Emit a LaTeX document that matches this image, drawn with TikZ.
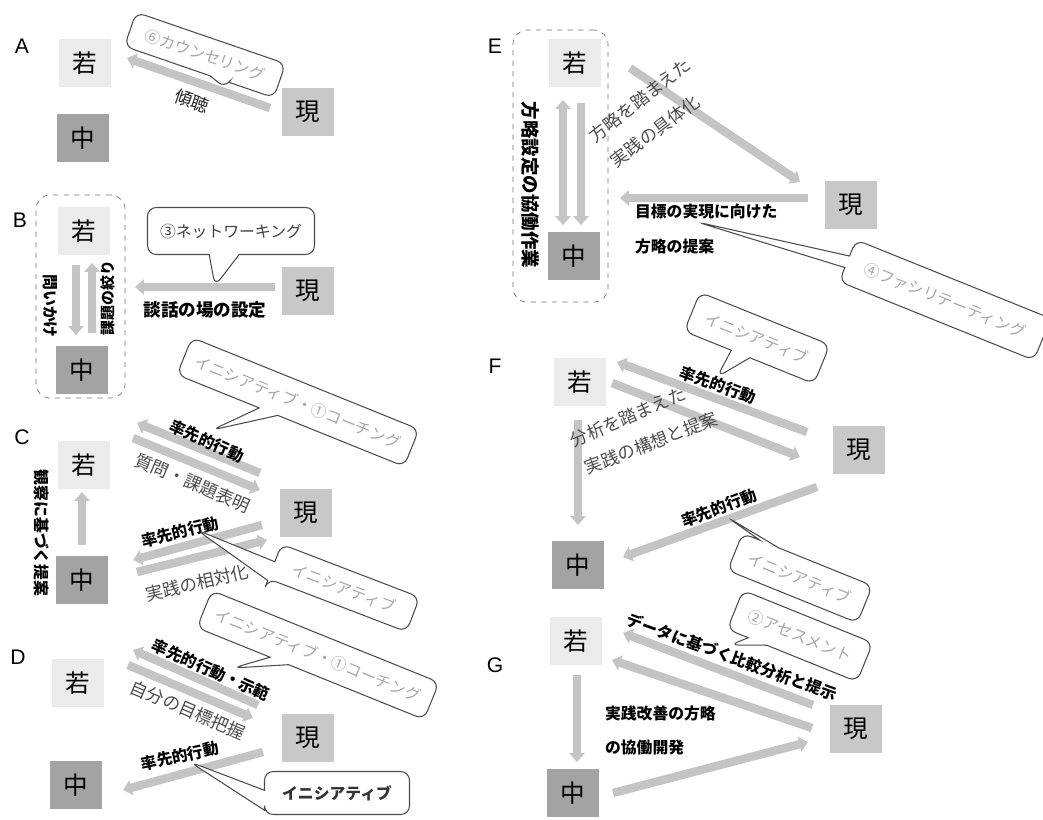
\documentclass[tikz,border=0pt]{standalone}
\usepackage{fontspec}
\setmainfont{Liberation Sans}
\newfontfamily\jp{Noto Sans CJK JP}
\usetikzlibrary{positioning,shapes.callouts,arrows.meta,calc,fit}

\definecolor{wakafill}{HTML}{EBEBEB}
\definecolor{genfill}{HTML}{C8C8C8}
\definecolor{nakafill}{HTML}{A3A3A3}
\definecolor{bandgray}{HTML}{C4C4C4}
\definecolor{notegray}{HTML}{A8A8A8}

\tikzset{
  box/.style={minimum width=1.04cm, minimum height=0.96cm, inner sep=0pt,
    font=\jp\fontsize{14}{16}\selectfont},
  waka/.style={box, fill=wakafill},
  gen/.style={box, fill=genfill},
  naka/.style={box, fill=nakafill},
  band/.style={draw=bandgray, line width=4.8pt,
    -{Triangle[width=8.5pt,length=5pt]}},
  bandboth/.style={band, {Triangle[width=8.5pt,length=5pt]}-{Triangle[width=8.5pt,length=5pt]}},
  lbl/.style={font=\jp\fontsize{9}{11}\selectfont\bfseries, inner sep=1pt},
  soft/.style={font=\jp\fontsize{10}{12}\selectfont, text=black!70, inner sep=1pt},
  bubble/.style={rectangle callout, draw=black!70, line width=0.6pt, fill=white,
    rounded corners=5pt, text=notegray, font=\jp\fontsize{9}{11}\selectfont,
    callout pointer width=0.4cm, inner sep=0pt},
  panel/.style={font=\fontsize{12}{14}\selectfont},
  grp/.style={draw=black!55, dashed, rounded corners=8pt, inner sep=0pt},
}

\begin{document}
\begin{tikzpicture}[x=0.02cm, y=-0.02cm]
\useasboundingbox (0,0) rectangle (1043,819);

% A
\node[panel] (labA) at (22,46) {A};
\node[waka] (wakaA) at (85,63) {若};
\node[naka] (nakaA) at (83,138) {中};
\node[gen] (genA) at (308,112) {現};
\draw[band] ($(genA)+(-38,-4)$) -- ($(wakaA)+(42,-5)$);
\node[soft, text=black!85, rotate=-19] (listenA) at (192,101) {傾聴};
\node[bubble, rotate=-19, minimum width=3.16cm, minimum height=0.72cm,
  callout absolute pointer={(225,88)}] (noteA) at (205,55) {⑥カウンセリング};

% B
\node[panel] (labB) at (20,220) {B};
\node[grp, fit={(36,195) (125,398)}] (grpB) {};
\node[waka] (wakaB) at (84,231) {若};
\node[naka] (nakaB) at (82,370) {中};
\node[gen] (genB) at (308,291) {現};
\draw[band] ($(genB)+(-33,-4)$) -- ($(genB)+(-173,-4)$);
\draw[band] ($(wakaB)+(-8,34)$) -- ($(nakaB)+(-6,-35)$);
\draw[band] ($(nakaB)+(10,-37)$) -- ($(wakaB)+(8,32)$);
\node[lbl, font=\jp\fontsize{10}{12}\selectfont\bfseries] (talkB) at (205,310) {談話の場の設定};
\node[lbl, rotate=-90] (askB) at (50,306) {問いかけ};
\node[lbl, rotate=90, font=\jp\fontsize{8.5}{10}\selectfont\bfseries] (focusB) at (108,298) {課題の絞り};
\node[bubble, text=black!75, minimum width=3.34cm, minimum height=0.94cm,
  callout pointer width=0.6cm,
  callout absolute pointer={(215,286)}] (noteB) at (231,231) {③ネットワーキング};

% C
\node[panel] (labC) at (22,437) {C};
\node[waka] (wakaC) at (84,465) {若};
\node[naka] (nakaC) at (82,580) {中};
\node[gen] (genC) at (306,513) {現};
\draw[band] ($(genC)+(-46,-40)$) -- ($(wakaC)+(53,-42)$);
\draw[band] ($(wakaC)+(49,-27)$) -- ($(genC)+(-46,-23)$);
\draw[band] ($(nakaC)+(0,-35)$) -- ($(wakaC)+(-2,27)$);
\draw[band] ($(genC)+(-44,12)$) -- ($(nakaC)+(51,-20)$);
\draw[band] ($(nakaC)+(55,-8)$) -- ($(genC)+(-39,27)$);
\node[lbl, rotate=-24] (leadC) at (207,441) {率先的行動};
\node[soft, rotate=-23] (askC) at (193,483) {質問・課題表明};
\node[lbl, rotate=14] (leadCC) at (180,532) {率先的行動};
\node[soft, rotate=13] (relC) at (197,583) {実践の相対化};
\node[lbl, rotate=-90] (propC) at (42,533) {観察に基づく提案};
\node[bubble, rotate=-22, minimum width=4.9cm, minimum height=0.8cm,
  callout absolute pointer={(212,430)}] (noteC) at (298,402) {イニシアティブ・①コーチング};
\node[bubble, rotate=-21, minimum width=2.96cm, minimum height=0.74cm,
  callout absolute pointer={(197,530)}] (noteCC) at (344,588) {イニシアティブ};

% D
\node[panel] (labD) at (18,657) {D};
\node[waka] (wakaD) at (78,683) {若};
\node[naka] (nakaD) at (76,785) {中};
\node[gen] (genD) at (308,738) {現};
\draw[band] ($(genD)+(-50,-33)$) -- ($(wakaD)+(55,-33)$);
\draw[band] ($(wakaD)+(50,-18)$) -- ($(genD)+(-55,-20)$);
\draw[band] ($(genD)+(-45,14)$) -- ($(nakaD)+(47,5)$);
\node[lbl, rotate=-24] (leadD) at (211,670) {率先的行動・示範};
\node[soft, rotate=-23] (goalD) at (188,710) {自分の目標把握};
\node[lbl, rotate=12] (leadDD) at (180,756) {率先的行動};
\node[bubble, rotate=-22, minimum width=4.9cm, minimum height=0.8cm,
  callout absolute pointer={(233,668)}] (noteD) at (318,655) {イニシアティブ・①コーチング};
\node[bubble, text=black!80, font=\jp\fontsize{9}{11}\selectfont\bfseries,
  minimum width=2.9cm, minimum height=0.86cm,
  callout absolute pointer={(190,762)}] (noteDD) at (337,793) {イニシアティブ};

% E
\node[panel] (labE) at (495,46) {E};
\node[grp, fit={(513,30) (608,302)}] (grpE) {};
\node[waka] (wakaE) at (575,63) {若};
\node[naka] (nakaE) at (574,256) {中};
\node[gen] (genE) at (851,205) {現};
\draw[band] ($(wakaE)+(55,5)$) -- ($(genE)+(-51,-23)$);
\draw[band] ($(genE)+(-43,-7)$) -- ($(genE)+(-231,-7)$);
\draw[bandboth] ($(wakaE)+(-12,37)$) -- ($(nakaE)+(-11,-31)$);
\draw[band] ($(wakaE)+(6,40)$) -- ($(nakaE)+(7,-31)$);
\node[soft, rotate=38] (planE) at (640,100) {方略を踏まえた};
\node[soft, rotate=37] (planEE) at (655,131) {実践の具体化};
\node[lbl, anchor=west] (aimE) at (633,212) {目標の実現に向けた};
\node[lbl, anchor=west] (aimEE) at (633,247) {方略の提案};
\node[lbl, rotate=-90, font=\jp\fontsize{10.5}{12}\selectfont\bfseries] (workE) at (530,185) {方略設定の協働作業};
\node[bubble, rotate=-22, minimum width=4.2cm, minimum height=0.9cm,
  callout pointer width=0.25cm,
  callout absolute pointer={(697,222)}] (noteE) at (945,300) {④ファシリテーティング};

% F
\node[panel] (labF) at (495,366) {F};
\node[waka] (wakaF) at (580,382) {若};
\node[naka] (nakaF) at (578,565) {中};
\node[gen] (genF) at (859,450) {現};
\draw[band] ($(genF)+(-52,-18)$) -- ($(wakaF)+(37,-20)$);
\draw[band] ($(wakaF)+(32,1)$) -- ($(genF)+(-59,7)$);
\draw[band] ($(wakaF)+(-2,38)$) -- ($(nakaF)+(0,-40)$);
\draw[band] ($(genF)+(-42,37)$) -- ($(nakaF)+(45,-8)$);
\node[lbl, rotate=-20] (leadF) at (718,385) {率先的行動};
\node[soft, rotate=23] (ideaF) at (628,417) {分析を踏まえた};
\node[soft, rotate=21] (ideaFF) at (651,443) {実践の構想と提案};
\node[lbl, rotate=21] (leadFF) at (719,508) {率先的行動};
\node[bubble, rotate=-22, minimum width=2.8cm, minimum height=0.84cm,
  callout absolute pointer={(717,377)}] (noteF) at (757,338) {イニシアティブ};
\node[bubble, rotate=-22, minimum width=2.8cm, minimum height=0.8cm,
  callout absolute pointer={(727,517)}] (noteFF) at (800,578) {イニシアティブ};

% G
\node[panel] (labG) at (495,665) {G};
\node[waka] (wakaG) at (576,641) {若};
\node[naka] (nakaG) at (573,793) {中};
\node[gen] (genG) at (856,729) {現};
\draw[band] ($(genG)+(-43,-24)$) -- ($(wakaG)+(47,-8)$);
\draw[band] ($(genG)+(-44,-1)$) -- ($(wakaG)+(36,19)$);
\draw[band] ($(wakaG)+(1,34)$) -- ($(nakaG)+(4,-31)$);
\draw[band] ($(nakaG)+(40,0)$) -- ($(genG)+(-48,13)$);
\node[lbl, rotate=-20] (dataG) at (732,657) {データに基づく比較分析と提示};
\node[lbl, anchor=west] (devG) at (603,713) {実践改善の方略};
\node[lbl, anchor=west] (devGG) at (603,748) {の協働開発};
\node[bubble, rotate=-22, minimum width=2.8cm, minimum height=0.84cm,
  callout absolute pointer={(730,645)}] (noteG) at (800,636) {②アセスメント};
\end{tikzpicture}
\end{document}
